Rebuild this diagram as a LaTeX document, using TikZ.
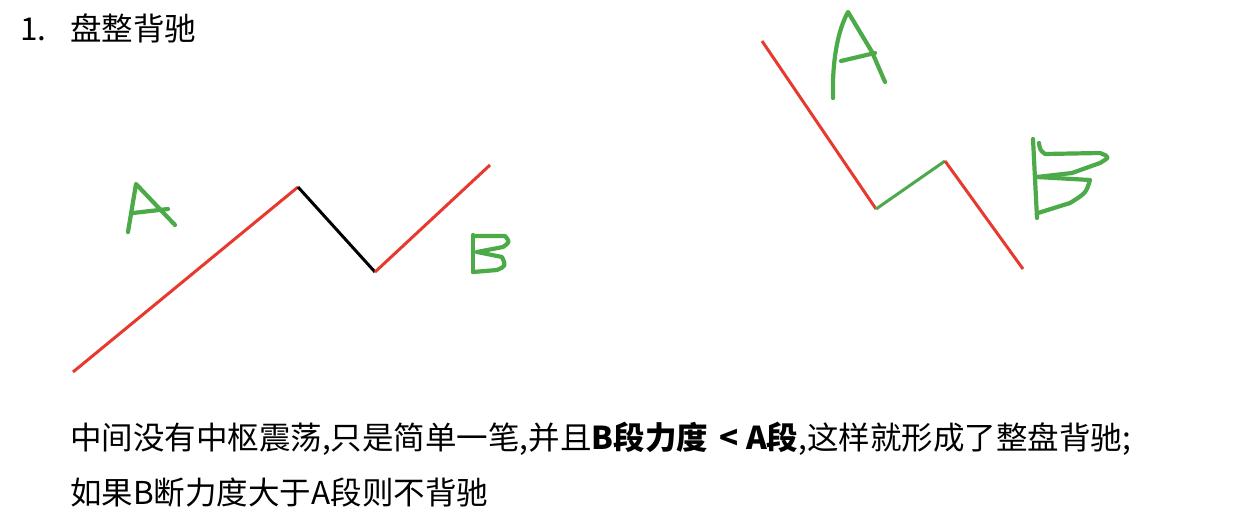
\documentclass[tikz,border=0pt]{standalone}
\usepackage{fontspec}
\setmainfont{Noto Sans CJK SC}
\definecolor{penred}{HTML}{E8392F}
\definecolor{pengreen}{HTML}{4CAA48}
\begin{document}
\begin{tikzpicture}[x=1pt,y=-1pt,
  redline/.style={draw=penred,line width=3pt},
  greenline/.style={draw=pengreen,line width=3pt},
  blackline/.style={draw=black,line width=3pt},
  ink/.style={draw=pengreen,line width=4.2pt,line cap=round,line join=round},
  txt/.style={inner sep=0pt,anchor=base west,font=\fontsize{31.5}{38}\selectfont}]
\useasboundingbox (0,0) rectangle (1258,530);
% title
\node[txt] (num) at (20,40) {1.};
\node[txt] (title) at (70,40) {盘整背驰};
% left figure
\coordinate (l0) at (73,372);
\coordinate (l1) at (298,187);
\coordinate (l2) at (375,272);
\coordinate (l3) at (490,165);
\draw[redline] (l0) -- (l1);
\draw[blackline] (l1) -- (l2);
\draw[redline] (l2) -- (l3);
% left A
\draw[ink] (128,232) -- (136,184) -- (175,225);
\draw[ink] (133,213) -- (168,209);
% left B
\draw[ink] (473,235) -- (473,272);
\draw[ink] (473,236) -- (505,236) .. controls (510,242) .. (503,247) -- (477,252);
\draw[ink] (477,252) -- (502,257) .. controls (506,266) .. (497,270) -- (473,272);
% right figure
\coordinate (r0) at (762,41);
\coordinate (r1) at (876,209);
\coordinate (r2) at (945,161);
\coordinate (r3) at (1023,269);
\draw[redline] (r0) -- (r1);
\draw[greenline] (r1) -- (r2);
\draw[redline] (r2) -- (r3);
% right A
\draw[ink] (833,98) .. controls (832,60) and (838,30) .. (848,12) -- (872,52) -- (885,82);
\draw[ink] (841,61) -- (875,53);
% right B
\draw[ink] (1033,139) -- (1037,218);
\draw[ink] (1039,143) .. controls (1040,150) .. (1045,154) -- (1100,153) .. controls (1110,157) .. (1100,163) -- (1072,173) -- (1037,177);
\draw[ink] (1037,177) -- (1090,180) .. controls (1086,193) .. (1070,203) -- (1038,213);
% bottom text
\node[txt] (line1) at (70,449) {中间没有中枢震荡,只是简单一笔,并且\textbf{B段力度\hspace{0.35em}<\hspace{0.25em}A段},这样就形成了整盘背驰;};
\node[txt] (line2) at (70,504) {如果B断力度大于A段则不背驰};
\end{tikzpicture}
\end{document}
